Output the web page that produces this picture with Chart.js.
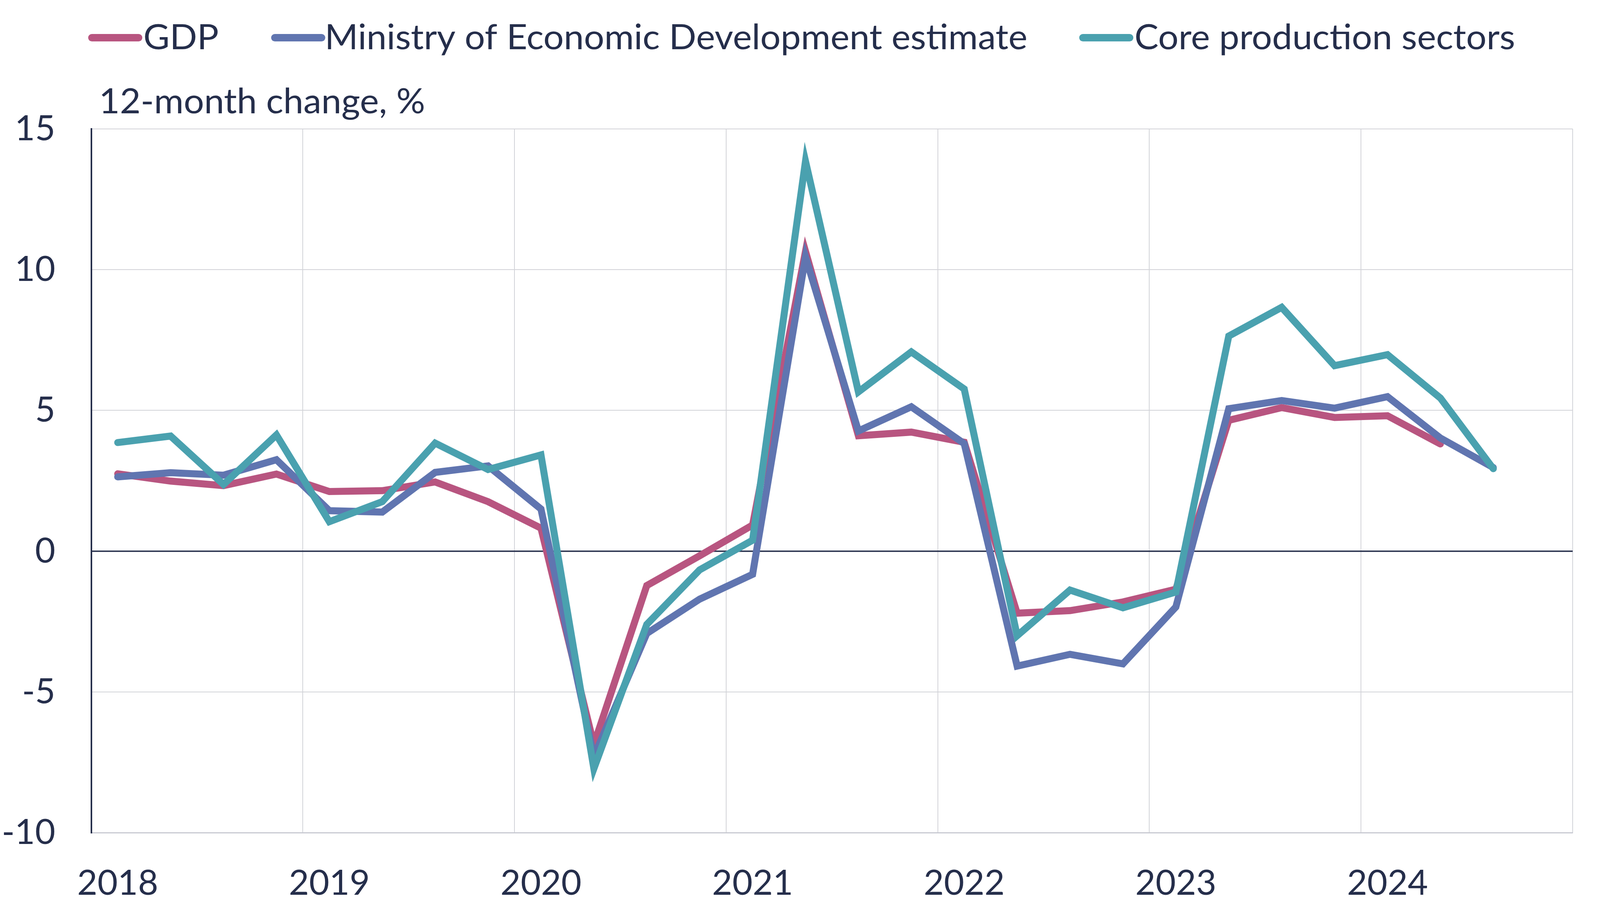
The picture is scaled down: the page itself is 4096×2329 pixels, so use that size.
<!DOCTYPE html>
<html>
<head>
<meta charset="utf-8">
<script src="https://cdn.jsdelivr.net/npm/chart.js@4.4.0/dist/chart.umd.min.js"></script>
<style>
  html, body { margin: 0; padding: 0; background: #ffffff; }
  canvas { display: block; }
</style>
</head>
<body>
<canvas id="chart" width="4096" height="2329" style="width:4096px;height:2329px"></canvas>
<script>
// ---------------- DATA ----------------
const quarters = [
  '2018 Q1','2018 Q2','2018 Q3','2018 Q4',
  '2019 Q1','2019 Q2','2019 Q3','2019 Q4',
  '2020 Q1','2020 Q2','2020 Q3','2020 Q4',
  '2021 Q1','2021 Q2','2021 Q3','2021 Q4',
  '2022 Q1','2022 Q2','2022 Q3','2022 Q4',
  '2023 Q1','2023 Q2','2023 Q3','2023 Q4',
  '2024 Q1','2024 Q2','2024 Q3','2024 Q4'
];
const yearLabels = ['2018', '2019', '2020', '2021', '2022', '2023', '2024'];
const seriesNames = ['GDP', 'Ministry of Economic Development estimate', 'Core production sectors'];
const gdp = [2.75, 2.49, 2.33, 2.74, 2.12, 2.15, 2.46, 1.76, 0.82, -6.87, -1.22, -0.16, 0.93,
             10.65, 4.1, 4.23, 3.87, -2.2, -2.11, -1.8, -1.35, 4.65, 5.1, 4.75, 4.81, 3.81, null, null];
const medEstimate = [2.64, 2.79, 2.7, 3.25, 1.44, 1.39, 2.8, 3.03, 1.5, -7.3, -2.92, -1.7, -0.82,
             10.45, 4.27, 5.13, 3.82, -4.08, -3.66, -4.0, -1.98, 5.06, 5.35, 5.08, 5.49, 4.02, 2.97, null];
const coreSectors = [3.86, 4.09, 2.37, 4.13, 1.05, 1.76, 3.84, 2.9, 3.42, -7.72, -2.6, -0.66, 0.39,
             13.85, 5.66, 7.08, 5.76, -3.0, -1.38, -2.01, -1.45, 7.64, 8.66, 6.59, 6.98, 5.44, 2.93, null];
const yAxisMin = -10, yAxisMax = 15, yAxisStep = 5;
const subtitleText = '12-month change, %';

// ---------------- STYLE ----------------
const NAVY = '#252e4b';
const GRID = '#d2d3d8';
const COLORS = ['#b85580', '#6075b0', '#4aa1af'];
const FONT_FAMILY = 'Lato';
const FONT_SIZE = 89.5;
const TEXT_STRETCH = 1.03;
const LINE_W = 18;

const LEG = { startX: 225.7, len: 138.6, thick: 18.8, cy: 96.5, textGap: 6.9, itemGap: 136, baseline: 126 };
const SUB = { x: 260.4, baseline: 289.8 };

Chart.defaults.font.family = FONT_FAMILY;
Chart.defaults.font.size = FONT_SIZE;
Chart.defaults.color = NAVY;

function drawStretchedText(ctx, text, inkX, baseline) {
  const m = ctx.measureText(text);
  ctx.save();
  ctx.translate(inkX, baseline);
  ctx.scale(TEXT_STRETCH, 1);
  ctx.fillText(text, m.actualBoundingBoxLeft, 0);
  ctx.restore();
  return inkX + (m.actualBoundingBoxLeft + m.actualBoundingBoxRight) * TEXT_STRETCH;
}

const legendPlugin = {
  id: 'refLegend',
  afterDraw(chart) {
    const ctx = chart.ctx;
    ctx.save();
    ctx.font = FONT_SIZE + 'px ' + FONT_FAMILY;
    ctx.textBaseline = 'alphabetic';
    ctx.textAlign = 'left';
    ctx.fillStyle = NAVY;
    let x = LEG.startX;
    chart.data.datasets.forEach(function (ds) {
      ctx.strokeStyle = ds.borderColor;
      ctx.lineWidth = LEG.thick;
      ctx.lineCap = 'round';
      ctx.beginPath();
      ctx.moveTo(x + LEG.thick / 2, LEG.cy);
      ctx.lineTo(x + LEG.len - LEG.thick / 2, LEG.cy);
      ctx.stroke();
      const inkRight = drawStretchedText(ctx, ds.label, x + LEG.len + LEG.textGap, LEG.baseline);
      x = inkRight + LEG.itemGap;
    });
    drawStretchedText(ctx, subtitleText, SUB.x, SUB.baseline);
    ctx.restore();
  }
};

const seriesData = [gdp, medEstimate, coreSectors];
const datasets = seriesData.map(function (arr, i) {
  return {
    label: seriesNames[i],
    data: arr,
    borderColor: COLORS[i],
    backgroundColor: COLORS[i],
    borderWidth: LINE_W,
    borderCapStyle: 'round',
    borderJoinStyle: 'miter',
    pointRadius: 0,
    pointHoverRadius: 0,
    tension: 0,
    fill: false,
    spanGaps: false,
    order: 2 - i
  };
});

new Chart(document.getElementById('chart'), {
  type: 'line',
  data: { labels: quarters, datasets: datasets },
  options: {
    responsive: false,
    animation: false,
    events: [],
    layout: { padding: { top: 329.7, right: 70, bottom: 0, left: 0 } },
    plugins: {
      legend: { display: false },
      title: { display: false },
      tooltip: { enabled: false }
    },
    scales: {
      x: {
        type: 'category',
        offset: true,
        grid: {
          offset: true,
          drawTicks: false,
          lineWidth: 2,
          color: function (c) {
            if (c.index === undefined) return GRID;
            return c.index % 4 === 0 ? GRID : 'rgba(0,0,0,0)';
          }
        },
        border: { display: true, color: '#c6c8d1', width: 2.5 },
        ticks: {
          autoSkip: false,
          maxRotation: 0,
          minRotation: 0,
          padding: 76,
          color: NAVY,
          callback: function (v, i) { return i % 4 === 0 ? yearLabels[i / 4] : ''; }
        },
        afterFit: function (s) { s.height = 197.5; }
      },
      y: {
        type: 'linear',
        min: yAxisMin,
        max: yAxisMax,
        grid: {
          drawTicks: false,
          color: function (c) { return c.tick && c.tick.value === 0 ? NAVY : GRID; },
          lineWidth: function (c) { return c.tick && c.tick.value === 0 ? 3.5 : 2; }
        },
        border: { display: true, color: NAVY, width: 4 },
        ticks: { stepSize: yAxisStep, padding: 92, color: NAVY },
        afterFit: function (s) { s.width = 233.6; }
      }
    }
  },
  plugins: [legendPlugin]
});
</script>
</body>
</html>
